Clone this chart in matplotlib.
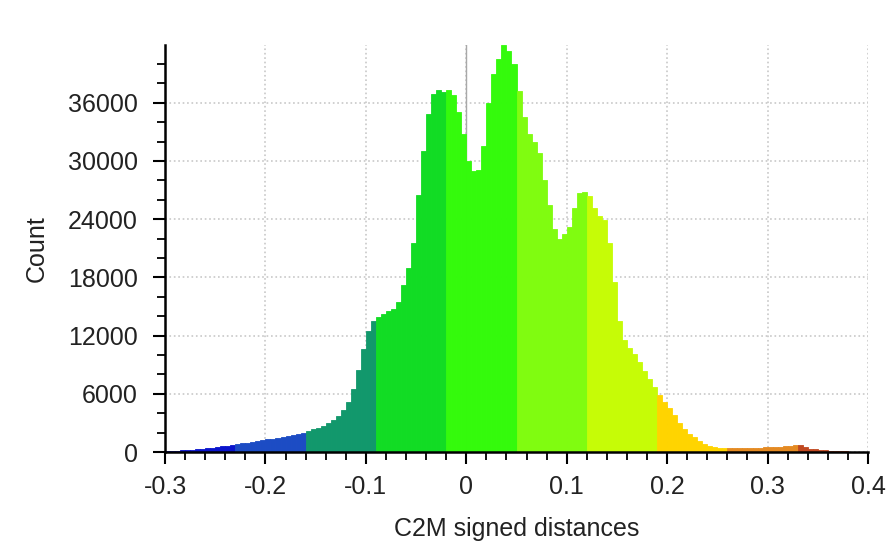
import matplotlib
matplotlib.use("Agg")
import matplotlib.pyplot as plt
from matplotlib.ticker import MultipleLocator
import numpy as np

# histogram of C2M signed distances, bin width 0.005 from -0.3 to 0.4
bin_start = -0.3
bin_width = 0.005
counts = [
    100, 120, 150, 170, 190, 210, 260, 310, 370, 430,
    500, 580, 660, 730, 800, 880, 960, 1040, 1130, 1220,
    1310, 1390, 1470, 1560, 1650, 1760, 1880, 2000, 2150, 2320,
    2500, 2700, 3000, 3300, 3700, 4300, 5200, 6500, 8500, 10600,
    12500, 13500, 13900, 14200, 14500, 14700, 15500, 17200, 19000, 21500,
    26500, 31000, 34800, 36900, 37300, 37100, 37300, 36800, 35000, 32800,
    30000, 29000, 29100, 31500, 36000, 39000, 40500, 41900, 41300, 40000,
    37200, 34500, 32800, 32000, 30800, 28000, 25500, 23000, 22000, 22500,
    23200, 25200, 26700, 26800, 26400, 25200, 24300, 23900, 21500, 17500,
    13500, 11500, 10700, 10100, 9300, 8400, 7500, 6700, 5900, 5200,
    4500, 3800, 3000, 2400, 1900, 1500, 1100, 850, 650, 520,
    450, 420, 400, 390, 390, 400, 410, 430, 450, 470,
    500, 520, 550, 580, 620, 680, 700, 500, 350, 280,
    220, 170, 130, 100, 80, 60, 40, 30, 20, 10,
]

# colour scale steps (CloudCompare-like)
band_edges = [-0.3, -0.23, -0.16, -0.09, -0.02, 0.05, 0.12, 0.19, 0.26, 0.33, 0.4]
band_colors = ["#0a14cc", "#1c4cc4", "#12986c", "#12dc24", "#34fa0c",
               "#80fc10", "#c6fc06", "#ffd400", "#e48a22", "#c04820"]

x_ticks = [-0.3, -0.2, -0.1, 0, 0.1, 0.2, 0.3, 0.4]
x_tick_labels = ["-0.3", "-0.2", "-0.1", "0", "0.1", "0.2", "0.3", "0.4"]
y_ticks = [0, 6000, 12000, 18000, 24000, 30000, 36000]

plt.rcParams["font.family"] = ["Liberation Sans", "DejaVu Sans"]

left_edges = bin_start + bin_width * np.arange(len(counts))
centers = left_edges + bin_width / 2
idx = np.clip(np.searchsorted(band_edges, centers) - 1, 0, len(band_colors) - 1)
colors = [band_colors[i] for i in idx]

fig = plt.figure(figsize=(8.91, 5.44), dpi=100)
ax = fig.add_axes([0.1852, 0.1691, 0.789, 0.7482])

ax.bar(left_edges, counts, width=bin_width, align="edge", color=colors,
       edgecolor=colors, linewidth=0.6, zorder=2)
ax.axvline(0, color="#a8a8a8", linewidth=1.0, zorder=1)

ax.set_xlim(-0.3, 0.4)
ax.set_ylim(0, 41950)
ax.set_xticks(x_ticks)
ax.set_xticklabels(x_tick_labels)
ax.set_yticks(y_ticks)
ax.xaxis.set_minor_locator(MultipleLocator(0.02))
ax.yaxis.set_minor_locator(MultipleLocator(2000))

ax.grid(True, which="major", color="#c8c8c8", linestyle=":", linewidth=1.2, zorder=0)
ax.set_axisbelow(True)

for s in ["top", "right"]:
    ax.spines[s].set_visible(False)
for s in ["left", "bottom"]:
    ax.spines[s].set_linewidth(1.8)
    ax.spines[s].set_color("black")

ax.tick_params(which="major", direction="out", length=8.5, width=1.5,
               labelsize=18, pad=8, colors="black")
ax.tick_params(which="minor", direction="out", length=5.5, width=1.3, colors="black")
ax.tick_params(axis="y", which="major", pad=11)
for lab in ax.get_xticklabels() + ax.get_yticklabels():
    lab.set_color("#222222")

ax.set_xlabel("C2M signed distances", fontsize=18, color="#222222", labelpad=13)
ax.set_ylabel("Count", fontsize=18, color="#222222", labelpad=14)

fig.savefig("out.png", dpi=100, facecolor="white")
